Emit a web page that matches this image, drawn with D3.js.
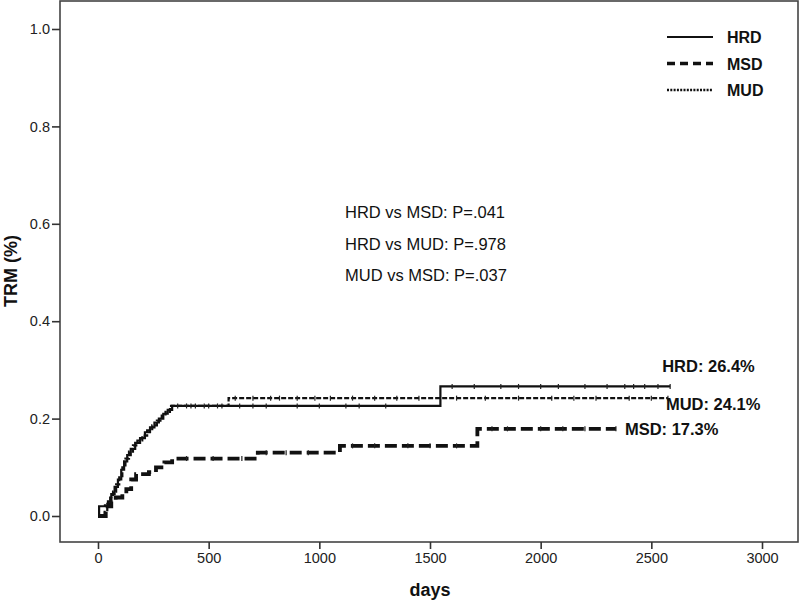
<!DOCTYPE html>
<html>
<head>
<meta charset="utf-8">
<script src="https://cdn.jsdelivr.net/npm/d3@7"></script>
<style>
  html, body { margin: 0; padding: 0; background: #fff; }
  svg { display: block; }
  text { font-family: Arial, "Liberation Sans", sans-serif; }
</style>
</head>
<body>
<script>
// ---- Data ----
const xTicks = [0, 500, 1000, 1500, 2000, 2500, 3000];
const yTicks = [0.0, 0.2, 0.4, 0.6, 0.8, 1.0];

// cumulative incidence step events: [day, value]
const hrdSteps = [[0,0],[5,0.02],[45,0.03],[60,0.045],[75,0.06],[90,0.075],[105,0.095],[118,0.112],[132,0.125],[148,0.138],[168,0.15],[190,0.16],[212,0.172],[235,0.182],[255,0.192],[275,0.2],[295,0.21],[315,0.218],[335,0.226],[1547,0.266],[2585,0.266]];
const mudSteps = [[0,0],[30,0.012],[42,0.025],[55,0.038],[68,0.05],[82,0.065],[96,0.082],[110,0.1],[124,0.118],[140,0.132],[158,0.145],[178,0.155],[200,0.165],[222,0.176],[245,0.186],[266,0.196],[288,0.206],[305,0.214],[325,0.226],[590,0.242],[2575,0.242]];
const msdSteps = [[0,0],[35,0.02],[60,0.03],[80,0.038],[110,0.045],[128,0.055],[150,0.075],[172,0.086],[230,0.09],[262,0.1],[300,0.11],[335,0.118],[722,0.13],[1093,0.144],[1714,0.179],[2340,0.179]];

// censoring marks (days)
const hrdCensor = [420,480,560,640,700,760,900,1000,1120,1180,1300,1600,1700,1820,1900,2000,2080,2200,2300,2380,2420,2470,2530,2585];
const mudCensor = [360,400,440,500,540,620,700,780,820,900,980,1050,1150,1250,1350,1450,1620,1750,1900,2050,2150,2250,2400,2500,2575];
const msdCensor = [400,520,650,760,850,950,1150,1250,1400,1500,1620,1780,1850,2000,2100,2200,2340];

const series = [
  { name: "HRD", steps: hrdSteps, censor: hrdCensor, width: 2.2, dash: null },
  { name: "MUD", steps: mudSteps, censor: mudCensor, width: 2.2, dash: "5,2" },
  { name: "MSD", steps: msdSteps, censor: msdCensor, width: 3.8, dash: "12,5" }
];

const endLabels = [
  { text: "HRD: 26.4%", day: 2585, value: 0.266, dx: -8, dy: -14 },
  { text: "MUD: 24.1%", day: 2575, value: 0.242, dx: -2, dy: 12 },
  { text: "MSD: 17.3%", day: 2340, value: 0.179, dx: 9, dy: 6 }
];

const pTexts = ["HRD vs MSD: P=.041", "HRD vs MUD: P=.978", "MUD vs MSD: P=.037"];

const legendItems = [
  { name: "HRD", width: 2, dash: null },
  { name: "MSD", width: 3.5, dash: "8,5" },
  { name: "MUD", width: 2.6, dash: "2,1.3" }
];

// ---- Layout ----
const W = 800, H = 603;
const frame = { left: 60, top: 1, right: 798, bottom: 542 };

const svg = d3.select("body").append("svg").attr("width", W).attr("height", H);

const x = d3.scaleLinear().domain([0, 3000]).range([98, 762]);
const y = d3.scaleLinear().domain([0, 1]).range([516, 29]);

// frame
svg.append("rect")
  .attr("x", frame.left).attr("y", frame.top)
  .attr("width", frame.right - frame.left).attr("height", frame.bottom - frame.top)
  .attr("fill", "none").attr("stroke", "#444").attr("stroke-width", 1.6);

// x axis
const xAxis = svg.append("g").attr("transform", `translate(0,${frame.bottom})`)
  .call(d3.axisBottom(x).tickValues(xTicks).tickSize(7).tickPadding(4).tickFormat(d3.format("d")));
xAxis.select(".domain").remove();
xAxis.selectAll("line").attr("stroke", "#333").attr("stroke-width", 1.6);
xAxis.selectAll("text").attr("font-size", 14.5).attr("fill", "#222");

// y axis
const yAxis = svg.append("g").attr("transform", `translate(${frame.left},0)`)
  .call(d3.axisLeft(y).tickValues(yTicks).tickSize(8).tickPadding(2).tickFormat(d3.format(".1f")));
yAxis.select(".domain").remove();
yAxis.selectAll("line").attr("stroke", "#333").attr("stroke-width", 1.6);
yAxis.selectAll("text").attr("font-size", 14.5).attr("fill", "#222");

// axis titles
svg.append("text").attr("x", 430).attr("y", 596).attr("text-anchor", "middle")
  .attr("font-size", 18).attr("font-weight", "bold").attr("fill", "#111").text("days");
svg.append("text").attr("transform", "translate(17,271) rotate(-90)").attr("text-anchor", "middle")
  .attr("font-size", 18).attr("font-weight", "bold").attr("fill", "#111").text("TRM (%)");

// curves
const line = d3.line().x(d => x(d[0])).y(d => y(d[1])).curve(d3.curveStepAfter);

function valueAt(steps, day) {
  let v = 0;
  for (const s of steps) { if (s[0] <= day) v = s[1]; }
  return v;
}

series.forEach(s => {
  svg.append("path").datum(s.steps)
    .attr("d", line)
    .attr("fill", "none").attr("stroke", "#111")
    .attr("stroke-width", s.width)
    .attr("stroke-dasharray", s.dash)
    .attr("stroke-linejoin", "miter");
  svg.append("g").selectAll("line").data(s.censor).join("line")
    .attr("x1", d => x(d)).attr("x2", d => x(d))
    .attr("y1", d => y(valueAt(s.steps, d)) - 2.5)
    .attr("y2", d => y(valueAt(s.steps, d)) + 2.5)
    .attr("stroke", "#222").attr("stroke-width", 1.2);
});

// end labels
svg.append("g").selectAll("text").data(endLabels).join("text")
  .attr("x", d => x(d.day) + d.dx)
  .attr("y", d => y(d.value) + d.dy)
  .attr("font-size", 16.5).attr("font-weight", "bold").attr("fill", "#111")
  .text(d => d.text);

// p-value annotations
svg.append("g").selectAll("text").data(pTexts).join("text")
  .attr("x", 345).attr("y", (d, i) => 218 + i * 31.5)
  .attr("font-size", 16.5).attr("fill", "#111")
  .text(d => d);

// legend
const lg = svg.append("g");
legendItems.forEach((d, i) => {
  const yy = 37 + i * 26.5;
  lg.append("line").attr("x1", 667).attr("x2", 713).attr("y1", yy).attr("y2", yy)
    .attr("stroke", "#111").attr("stroke-width", d.width).attr("stroke-dasharray", d.dash);
  lg.append("text").attr("x", 727).attr("y", yy + 6)
    .attr("font-size", 16).attr("font-weight", "bold").attr("fill", "#111").text(d.name);
});
</script>
</body>
</html>
